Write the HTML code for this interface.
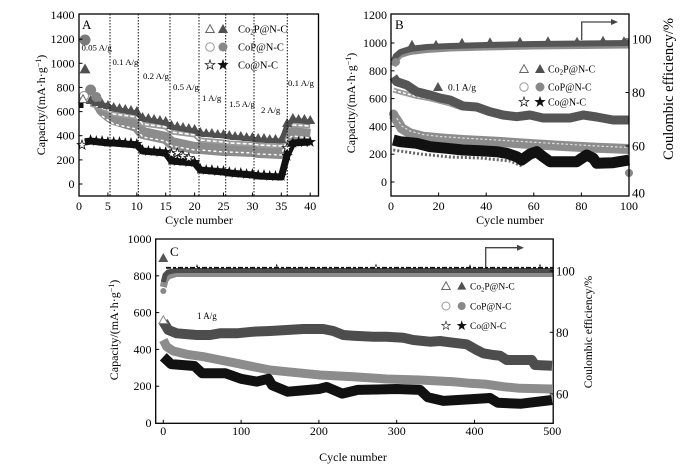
<!DOCTYPE html>
<html><head><meta charset="utf-8"><style>
html,body{margin:0;padding:0;background:#fff;}
svg{display:block;font-family:"Liberation Serif","DejaVu Serif",serif;}
</style></head><body>
<svg width="700" height="468" viewBox="0 0 700 468" xmlns="http://www.w3.org/2000/svg">
<defs>
<path id="tf" d="M0,-5L5,4L-5,4Z"/>
<path id="st" d="M0,-6 L1.41,-1.94 L5.71,-1.85 L2.28,0.74 L3.53,4.85 L0,2.4 L-3.53,4.85 L-2.28,0.74 L-5.71,-1.85 L-1.41,-1.94Z"/>
<path id="tl" d="M0,-4.2L4.3,3.5L-4.3,3.5Z"/>
<path id="sl" d="M0,-5 L1.18,-1.62 L4.76,-1.55 L1.9,0.62 L2.94,4.05 L0,2 L-2.94,4.05 L-1.9,0.62 L-4.76,-1.55 L-1.18,-1.62Z"/>
<path id="sm" d="M0,-3 L1,0 L-1,0Z"/>
</defs>
<rect width="700" height="468" fill="#fff"/>

<!-- ================= PANEL A ================= -->
<g fill="none" stroke-linejoin="round">
<polyline points="96.3,100 102.1,110 107.9,115 113.7,119 136.8,126 142.6,133 165.7,138 171.5,143 194.6,148 200.4,148 223.5,150 229.3,150 252.4,151 258.2,152 281.3,153 287.1,137 292.9,133 310.2,135" stroke="#8c8c8c" stroke-width="12"/>
<polyline points="102.1,116 107.9,120 113.7,124 136.8,129 142.6,137 165.7,141 171.5,146 194.6,150 200.4,150 223.5,152 229.3,152 252.4,153 258.2,154 281.3,155 287.1,139 292.9,136 310.2,138" stroke="#fff" stroke-width="1.4" stroke-dasharray="3 2.5"/>
<polyline points="90.6,104 107.9,110 113.7,114 136.8,117 142.6,124 165.7,127 171.5,132 194.6,135 200.4,140 223.5,142 229.3,143 252.4,144 258.2,145 281.3,146 287.1,125 292.9,125 310.2,126" stroke="#9a9a9a" stroke-width="5"/>
<polyline points="90.6,104 107.9,110 113.7,114 136.8,117 142.6,124 165.7,127 171.5,132 194.6,135 200.4,140 223.5,142 229.3,143 252.4,144 258.2,145 281.3,146 287.1,125 292.9,125 310.2,126" stroke="#fff" stroke-width="1.6" stroke-dasharray="4 2"/>
<polyline points="90.6,102 107.9,106 113.7,109 136.8,113 142.6,119 165.7,123 171.5,127 194.6,131 200.4,134 223.5,136 229.3,137 252.4,139 258.2,140 281.3,141 287.1,125 292.9,120 310.2,122" stroke="#505050" stroke-width="5"/>
<polyline points="84.8,142 90.6,141 107.9,143 113.7,143 136.8,145 142.6,151 165.7,153 171.5,161 194.6,163 200.4,170 223.5,172 229.3,173 252.4,175 258.2,176 281.3,177 287.1,155 292.9,143 310.2,142" stroke="#111" stroke-width="7"/>
</g>
<g fill="#505050">
<use href="#tf" x="90.6" y="100"/><use href="#tf" x="96.3" y="102"/><use href="#tf" x="102.1" y="104"/><use href="#tf" x="107.9" y="105"/>
<use href="#tf" x="113.7" y="107"/><use href="#tf" x="119.5" y="108"/><use href="#tf" x="125.3" y="109"/><use href="#tf" x="131" y="110"/><use href="#tf" x="136.8" y="111"/>
<use href="#tf" x="142.6" y="117"/><use href="#tf" x="148.4" y="118"/><use href="#tf" x="154.1" y="119"/><use href="#tf" x="159.9" y="120"/><use href="#tf" x="165.7" y="121"/>
<use href="#tf" x="171.5" y="125"/><use href="#tf" x="177.3" y="126"/><use href="#tf" x="183" y="127"/><use href="#tf" x="188.8" y="128"/><use href="#tf" x="194.6" y="129"/>
<use href="#tf" x="200.4" y="132"/><use href="#tf" x="206.2" y="133"/><use href="#tf" x="211.9" y="133"/><use href="#tf" x="217.7" y="134"/><use href="#tf" x="223.5" y="134"/>
<use href="#tf" x="229.3" y="135"/><use href="#tf" x="235.1" y="136"/><use href="#tf" x="240.8" y="136"/><use href="#tf" x="246.6" y="137"/><use href="#tf" x="252.4" y="137"/>
<use href="#tf" x="258.2" y="138"/><use href="#tf" x="264" y="138"/><use href="#tf" x="269.7" y="139"/><use href="#tf" x="275.5" y="139"/><use href="#tf" x="281.3" y="139"/>
<use href="#tf" x="287.1" y="123"/><use href="#tf" x="292.9" y="118"/><use href="#tf" x="298.6" y="119"/><use href="#tf" x="304.4" y="119"/><use href="#tf" x="310.2" y="120"/>
</g>
<g fill="#111">
<use href="#st" x="90.6" y="140"/><use href="#st" x="96.3" y="141"/><use href="#st" x="102.1" y="141"/><use href="#st" x="107.9" y="142"/>
<use href="#st" x="113.7" y="142"/><use href="#st" x="119.5" y="142"/><use href="#st" x="125.3" y="143"/><use href="#st" x="131" y="143"/><use href="#st" x="136.8" y="144"/>
<use href="#st" x="142.6" y="150"/><use href="#st" x="148.4" y="151"/><use href="#st" x="154.1" y="151"/><use href="#st" x="159.9" y="152"/><use href="#st" x="165.7" y="152"/>
<use href="#st" x="171.5" y="160"/><use href="#st" x="177.3" y="161"/><use href="#st" x="183" y="161"/><use href="#st" x="188.8" y="162"/><use href="#st" x="194.6" y="162"/>
<use href="#st" x="200.4" y="169"/><use href="#st" x="206.2" y="170"/><use href="#st" x="211.9" y="170"/><use href="#st" x="217.7" y="171"/><use href="#st" x="223.5" y="171"/>
<use href="#st" x="229.3" y="172"/><use href="#st" x="235.1" y="173"/><use href="#st" x="240.8" y="173"/><use href="#st" x="246.6" y="174"/><use href="#st" x="252.4" y="174"/>
<use href="#st" x="258.2" y="175"/><use href="#st" x="264" y="175"/><use href="#st" x="269.7" y="176"/><use href="#st" x="275.5" y="176"/><use href="#st" x="281.3" y="176"/>
<use href="#st" x="287.1" y="156"/><use href="#st" x="292.9" y="143"/><use href="#st" x="298.6" y="142"/><use href="#st" x="304.4" y="142"/><use href="#st" x="310.2" y="142"/>
</g>
<g fill="#fff" stroke="#111" stroke-width="0.8">
<use href="#sl" x="82" y="145"/><use href="#sl" x="171.5" y="154"/><use href="#sl" x="177.3" y="153"/><use href="#sl" x="183" y="156"/><use href="#sl" x="188.8" y="158"/><use href="#sl" x="287.1" y="148"/>
</g>
<circle cx="85" cy="40" r="5.5" fill="#7a7a7a"/>
<circle cx="90.6" cy="90" r="5.5" fill="#858585"/>
<circle cx="96.3" cy="97" r="5" fill="#858585"/>
<use href="#tf" x="85" y="69" fill="#505050" transform="translate(-8.5,-6.9) scale(1.1)"/>
<circle cx="84" cy="96" r="4.5" fill="#fff" stroke="#888" stroke-width="1"/>
<use href="#tl" x="83" y="99" fill="#fff" stroke="#666" stroke-width="1"/>
<rect x="79.5" y="103" width="4" height="5" fill="#111"/>

<g stroke="#111" stroke-width="1" stroke-dasharray="1.5 1.5">
<line x1="110" y1="14" x2="110" y2="196"/><line x1="138.3" y1="14" x2="138.3" y2="196"/>
<line x1="170" y1="14" x2="170" y2="196"/><line x1="199" y1="14" x2="199" y2="196"/>
<line x1="225.7" y1="14" x2="225.7" y2="196"/><line x1="254" y1="14" x2="254" y2="196"/>
<line x1="287.3" y1="14" x2="287.3" y2="196"/>
</g>
<rect x="79" y="14" width="239.5" height="182" fill="none" stroke="#000" stroke-width="1.3"/>
<g stroke="#000" stroke-width="1">
<line x1="79" y1="184" x2="82.5" y2="184"/><line x1="79" y1="159.9" x2="82.5" y2="159.9"/><line x1="79" y1="135.7" x2="82.5" y2="135.7"/><line x1="79" y1="111.6" x2="82.5" y2="111.6"/><line x1="79" y1="87.4" x2="82.5" y2="87.4"/><line x1="79" y1="63.3" x2="82.5" y2="63.3"/><line x1="79" y1="39.2" x2="82.5" y2="39.2"/>
<line x1="107.9" y1="196" x2="107.9" y2="192.5"/><line x1="136.8" y1="196" x2="136.8" y2="192.5"/><line x1="165.7" y1="196" x2="165.7" y2="192.5"/><line x1="194.6" y1="196" x2="194.6" y2="192.5"/><line x1="223.5" y1="196" x2="223.5" y2="192.5"/><line x1="252.4" y1="196" x2="252.4" y2="192.5"/><line x1="281.3" y1="196" x2="281.3" y2="192.5"/><line x1="310.2" y1="196" x2="310.2" y2="192.5"/>
</g>
<g font-size="12" fill="#000" text-anchor="end">
<text x="74.5" y="188">0</text><text x="74.5" y="163.9">200</text><text x="74.5" y="139.7">400</text><text x="74.5" y="115.6">600</text><text x="74.5" y="91.4">800</text><text x="74.5" y="67.3">1000</text><text x="74.5" y="43.2">1200</text><text x="74.5" y="19">1400</text>
</g>
<g font-size="12" fill="#000" text-anchor="middle">
<text x="79" y="210">0</text><text x="107.9" y="210">5</text><text x="136.8" y="210">10</text><text x="165.7" y="210">15</text><text x="194.6" y="210">20</text><text x="223.5" y="210">25</text><text x="252.4" y="210">30</text><text x="281.3" y="210">35</text><text x="310.2" y="210">40</text>
<text x="199" y="224">Cycle number</text>
</g>
<text transform="translate(45,105) rotate(-90)" font-size="12" text-anchor="middle">Capacity/(mA·h·g<tspan font-size="8" dy="-4">−1</tspan><tspan dy="4">)</tspan></text>
<text x="82" y="29" font-size="13">A</text>
<g font-size="8.8" fill="#000">
<text x="81.5" y="50.5">0.05 A/g</text><text x="112.5" y="65">0.1 A/g</text><text x="143" y="79">0.2 A/g</text><text x="173" y="90">0.5 A/g</text><text x="202" y="101">1 A/g</text><text x="229" y="107">1.5 A/g</text><text x="261" y="113">2 A/g</text><text x="288" y="86">0.1 A/g</text>
</g>
<use href="#tl" x="210" y="29" fill="#fff" stroke="#666" stroke-width="1"/>
<use href="#tf" x="223" y="29" fill="#505050"/>
<circle cx="210" cy="47" r="4.3" fill="#fff" stroke="#999" stroke-width="1"/>
<circle cx="223" cy="47" r="4.5" fill="#888"/>
<use href="#sl" x="210" y="65" fill="#fff" stroke="#222" stroke-width="0.8"/>
<use href="#st" x="223" y="65" fill="#111"/>
<g font-size="10.5">
<text x="238" y="32.5">Co<tspan font-size="7" dy="2">2</tspan><tspan dy="-2">P@N-C</tspan></text>
<text x="238" y="50.5">CoP@N-C</text>
<text x="238" y="68.5">Co@N-C</text>
</g>

<!-- ================= PANEL B ================= -->
<g fill="none" stroke-linejoin="round">
<polyline points="393.4,66 395.8,60 400.5,55 410,52 426.7,50 450.5,48.5 486,47.5 533.8,46.5 581.4,46 629,45.5" stroke="#8c8c8c" stroke-width="6"/>
<polyline points="393.4,62 395.8,56 400.5,52 410,49 426.7,47 450.5,46 486,45 533.8,44 581.4,43.5 629,43" stroke="#555" stroke-width="6"/>
<polyline points="393.3,115 396.7,120 401.7,128.3 410,133.3 423,136.7 440,138.3 463,140 496.7,141.7 530,144 563,146 596.7,147.7 629,149" stroke="#8c8c8c" stroke-width="10"/>
<polyline points="396.7,118 401.7,126 410,131 423,134.5 440,136.5 463,138 496.7,140 530,142 563,144 596.7,146 629,147.5" stroke="#ddd" stroke-width="1.2" stroke-dasharray="2.5 2"/>
<polyline points="393.3,90 400,92 414.8,96 426,98 438.6,101 450,104 462,108" stroke="#999" stroke-width="5"/>
<polyline points="393.3,90 400,92 414.8,96 426,98 438.6,101 450,104 462,108" stroke="#fff" stroke-width="1.5" stroke-dasharray="3 2"/>
<polyline points="393.3,77 396.7,81.7 406.7,85 416.7,91.7 430,95 440,98 450,100 463,106 476.7,107 490,111.7 503,115 516.7,116.7 530,115 543,118 556.7,118 570,118 583.3,115 596.7,117 613,120 629,120" stroke="#555" stroke-width="9"/>
<polyline points="393.3,150 420,154 450,157 480,158 510,161 522,166" stroke="#666" stroke-width="3" stroke-dasharray="2 2"/>
<polyline points="393.3,140 400,141.7 416.7,143.3 430,146.7 446.7,148.3 463,150 480,150.7 496.7,151.7 506.7,153.3 516.7,156.7 521.7,160 530,154 536.7,151.7 543,156.7 550,161.7 563,161.7 576.7,161.7 586.7,155 593.3,158.3 596.7,163.3 613,162.7 629,160" stroke="#111" stroke-width="11"/>
</g>
<g fill="#555">
<use href="#tl" x="412" y="44"/><use href="#tl" x="436" y="44"/><use href="#tl" x="462" y="42"/><use href="#tl" x="490" y="41.5"/><use href="#tl" x="520" y="41"/><use href="#tl" x="548" y="40.5"/><use href="#tl" x="577" y="41"/><use href="#tl" x="603" y="40"/><use href="#tl" x="624" y="40.5"/>
</g>
<circle cx="396" cy="62" r="4" fill="#888"/>
<circle cx="393.5" cy="114" r="4.5" fill="#888"/>
<circle cx="629" cy="173" r="4" fill="#888"/>
<use href="#tf" x="438" y="87" fill="#555"/>
<text x="448" y="90.5" font-size="9.5">0.1 A/g</text>
<polyline points="581.7,40 581.7,22 612,22" fill="none" stroke="#444" stroke-width="1.3"/>
<path d="M611,19 L618,22 L611,25Z" fill="#444"/>
<rect x="391" y="14" width="238" height="182" fill="none" stroke="#000" stroke-width="1.3"/>
<g stroke="#000" stroke-width="1">
<line x1="391" y1="182" x2="394.5" y2="182"/><line x1="391" y1="154.2" x2="394.5" y2="154.2"/><line x1="391" y1="126.4" x2="394.5" y2="126.4"/><line x1="391" y1="98.6" x2="394.5" y2="98.6"/><line x1="391" y1="70.8" x2="394.5" y2="70.8"/><line x1="391" y1="43" x2="394.5" y2="43"/>
<line x1="629" y1="39" x2="625.5" y2="39"/><line x1="629" y1="92.5" x2="625.5" y2="92.5"/><line x1="629" y1="146" x2="625.5" y2="146"/>
<line x1="438.6" y1="196" x2="438.6" y2="192.5"/><line x1="486.2" y1="196" x2="486.2" y2="192.5"/><line x1="533.8" y1="196" x2="533.8" y2="192.5"/><line x1="581.4" y1="196" x2="581.4" y2="192.5"/>
</g>
<g font-size="12" text-anchor="end">
<text x="387" y="186">0</text><text x="387" y="158.2">200</text><text x="387" y="130.4">400</text><text x="387" y="102.6">600</text><text x="387" y="74.8">800</text><text x="387" y="47">1000</text><text x="387" y="19.2">1200</text>
</g>
<g font-size="13">
<text x="632" y="43.5">100</text><text x="632" y="97">80</text><text x="632" y="150.5">60</text><text x="632" y="197.5">40</text>
</g>
<g font-size="12" text-anchor="middle">
<text x="391" y="210">0</text><text x="438.6" y="210">20</text><text x="486.2" y="210">40</text><text x="533.8" y="210">60</text><text x="581.4" y="210">80</text><text x="629" y="210">100</text>
<text x="510" y="224">Cycle number</text>
</g>
<text transform="translate(355,103) rotate(-90)" font-size="12" text-anchor="middle">Capacity/(mA·h·g<tspan font-size="8" dy="-4">−1</tspan><tspan dy="4">)</tspan></text>
<text transform="translate(673,89) rotate(-90)" font-size="14.5" text-anchor="middle">Coulombic efficiency/%</text>
<text x="395" y="29" font-size="13">B</text>
<use href="#tl" x="524" y="69" fill="#fff" stroke="#666" stroke-width="1"/>
<use href="#tf" x="540" y="69" fill="#505050"/>
<circle cx="524" cy="87" r="4.2" fill="#fff" stroke="#999" stroke-width="1"/>
<circle cx="540" cy="87" r="4.5" fill="#888"/>
<use href="#sl" x="524" y="102" fill="#fff" stroke="#222" stroke-width="0.8"/>
<use href="#st" x="540" y="102" fill="#111"/>
<g font-size="10">
<text x="548" y="72.5">Co<tspan font-size="7" dy="2">2</tspan><tspan dy="-2">P@N-C</tspan></text>
<text x="548" y="90.5">CoP@N-C</text>
<text x="548" y="105.5">Co@N-C</text>
</g>

<!-- ================= PANEL C ================= -->
<g fill="none" stroke-linejoin="round">
<polyline points="163.3,287 165,280 168,276 176,273.5 553,273.5" stroke="#8c8c8c" stroke-width="7"/>
<polyline points="163.3,282 165,275 168,272 176,270.5 553,270.5" stroke="#4d4d4d" stroke-width="5"/>
<polyline points="166,267.8 553,267.8" stroke="#111" stroke-width="1.8" stroke-dasharray="5 2 3 2"/>
<polyline points="163.3,321.7 168.3,330 176.7,333.3 196.7,335 210,335 220,333.3 236.7,333.3 253.3,331.7 270,331 286.7,330 303.3,329 323.3,329 333.3,331 343.3,335 353.3,335.7 373.3,336.7 386.7,336.7 403.3,337.7 413.3,340 430,341.7 440,341 450,342.3 466.7,344.3 476.7,350 483.3,353.3 493.3,355 500,355.7 506.7,360 523.3,360 531.7,360 535,365 552,365.7" stroke="#4d4d4d" stroke-width="10"/>
<polyline points="163.3,340 166.7,346.7 173.3,351 186.7,354.3 203.3,356.7 220,360 236.7,363.3 253.3,366.7 270,370 286.7,371.7 303.3,373.3 320,375 353.3,376.7 386.7,379 420,380 453.3,381.7 470,383.3 486.7,384.3 503.3,386.7 520,388.3 552,389" stroke="#8c8c8c" stroke-width="9"/>
<polyline points="163.3,356.8 171.1,364.1 194.4,366 202.2,373.3 225.5,373.3 241.1,378.8 256.7,381.6 268.3,378.8 272.2,385.3 287.8,391.7 318.9,389 326.7,387 342.2,393.6 357.8,389.9 396.7,389 420,389.9 427.8,397.2 443.4,400.9 474.5,399 490,398 497.8,402.8 521.2,403.7 552,400" stroke="#111" stroke-width="10"/>
</g>
<g fill="#111">
<use href="#sm" x="197" y="267"/><use href="#sm" x="276.7" y="266.5"/><use href="#sm" x="376" y="266.5"/><use href="#sm" x="470" y="267"/><use href="#sm" x="540" y="266.5"/>
</g>
<circle cx="163.3" cy="291" r="3" fill="#888"/>
<use href="#tf" x="163.3" y="258" fill="#555"/>
<use href="#tl" x="163.3" y="320" fill="#fff" stroke="#888" stroke-width="1"/>
<text x="197" y="319" font-size="9">1 A/g</text>
<text x="170" y="256" font-size="13">C</text>
<polyline points="485.7,267 485.7,247.7 518,247.7" fill="none" stroke="#444" stroke-width="1.3"/>
<path d="M517,244.7 L524,247.7 L517,250.7Z" fill="#444"/>
<rect x="155.7" y="239" width="397.5" height="184.3" fill="none" stroke="#000" stroke-width="1.3"/>
<g stroke="#000" stroke-width="1">
<line x1="155.7" y1="386.2" x2="159.2" y2="386.2"/><line x1="155.7" y1="349.4" x2="159.2" y2="349.4"/><line x1="155.7" y1="312.6" x2="159.2" y2="312.6"/><line x1="155.7" y1="275.8" x2="159.2" y2="275.8"/>
<line x1="553.2" y1="271" x2="549.7" y2="271"/><line x1="553.2" y1="332.3" x2="549.7" y2="332.3"/><line x1="553.2" y1="394" x2="549.7" y2="394"/>
<line x1="163.3" y1="423.3" x2="163.3" y2="419.8"/><line x1="241.1" y1="423.3" x2="241.1" y2="419.8"/><line x1="318.9" y1="423.3" x2="318.9" y2="419.8"/><line x1="396.7" y1="423.3" x2="396.7" y2="419.8"/><line x1="474.5" y1="423.3" x2="474.5" y2="419.8"/>
</g>
<g font-size="12" text-anchor="end">
<text x="151.5" y="427">0</text><text x="151.5" y="390.2">200</text><text x="151.5" y="353.4">400</text><text x="151.5" y="316.6">600</text><text x="151.5" y="279.8">800</text><text x="151.5" y="243">1000</text>
</g>
<g font-size="12.5">
<text x="556" y="275.5">100</text><text x="556" y="336.8">80</text><text x="556" y="398.5">60</text>
</g>
<g font-size="12" text-anchor="middle">
<text x="163.3" y="435">0</text><text x="241.1" y="435">100</text><text x="318.9" y="435">200</text><text x="396.7" y="435">300</text><text x="474.5" y="435">400</text><text x="552.3" y="435">500</text>
<text x="353" y="461">Cycle number</text>
</g>
<text transform="translate(118,330) rotate(-90)" font-size="12" text-anchor="middle">Capacity/(mA·h·g<tspan font-size="8" dy="-4">−1</tspan><tspan dy="4">)</tspan></text>
<text transform="translate(592,332) rotate(-90)" font-size="11.5" text-anchor="middle">Coulombic efficiency/%</text>
<use href="#tl" x="446" y="286" fill="#fff" stroke="#666" stroke-width="1"/>
<use href="#tf" x="461.7" y="286" fill="#505050" transform="translate(46.2,28.6) scale(0.9)"/>
<circle cx="446" cy="306" r="4" fill="#fff" stroke="#999" stroke-width="1"/>
<circle cx="461.7" cy="306" r="4" fill="#888"/>
<use href="#sl" x="446" y="325.7" fill="#fff" stroke="#222" stroke-width="0.7" transform="translate(44.6,32.6) scale(0.9)"/>
<use href="#st" x="461.7" y="325.7" fill="#111" transform="translate(46.2,32.6) scale(0.9)"/>
<g font-size="9.5">
<text x="470" y="289.5">Co<tspan font-size="6.5" dy="2">2</tspan><tspan dy="-2">P@N-C</tspan></text>
<text x="470" y="309.5">CoP@N-C</text>
<text x="470" y="329">Co@N-C</text>
</g>
</svg>
</body></html>
